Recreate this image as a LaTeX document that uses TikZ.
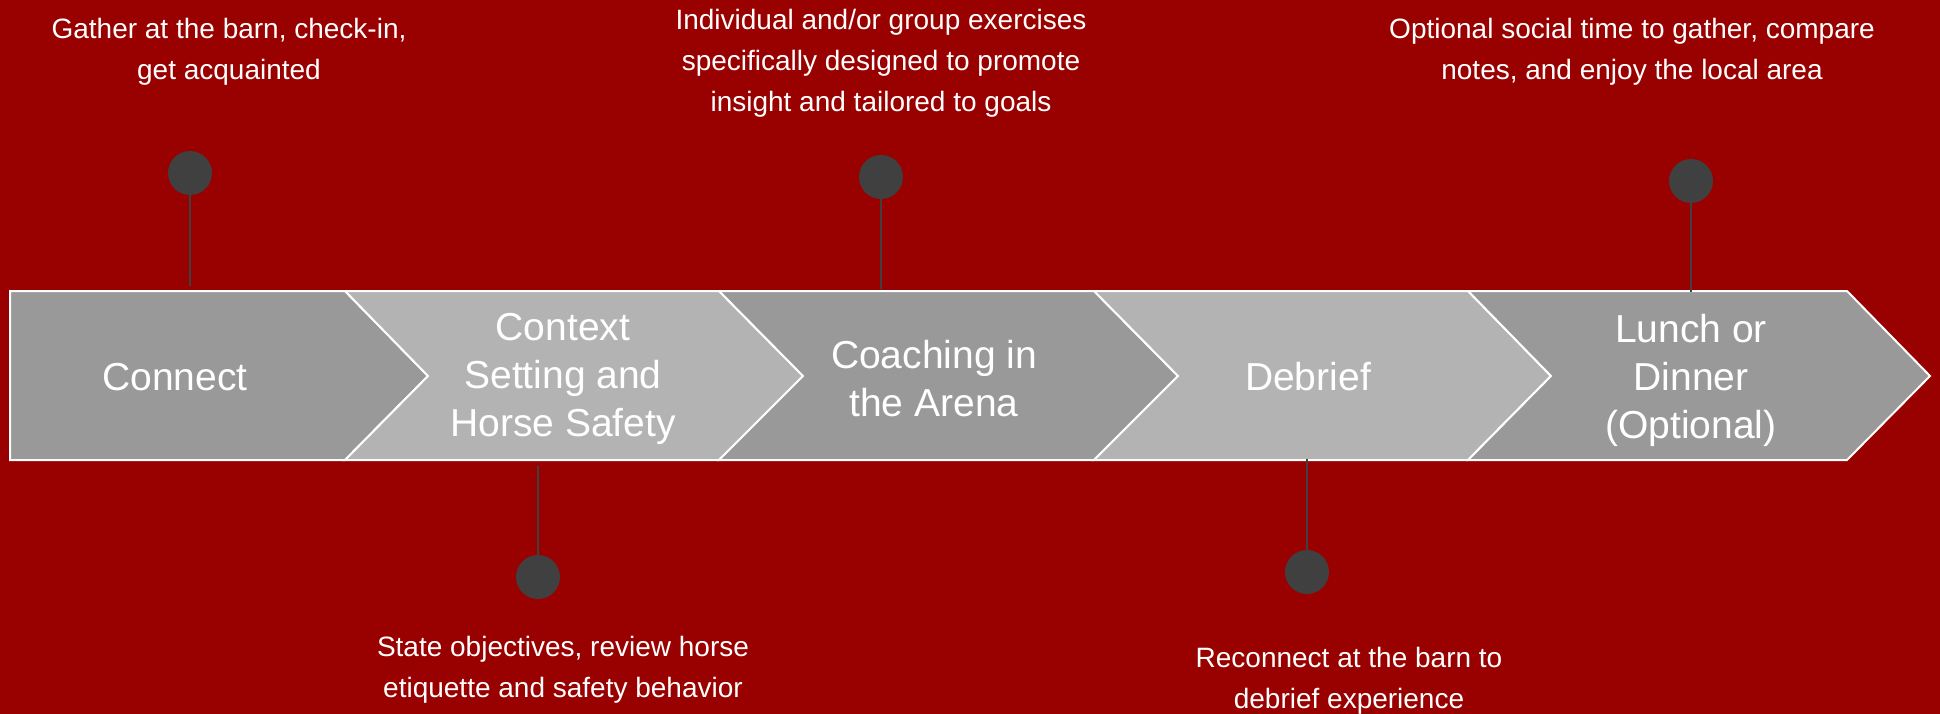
\documentclass[tikz,border=0pt]{standalone}
\usepackage{fontspec}
\setmainfont{Liberation Sans}
\definecolor{bg}{HTML}{990000}
\definecolor{darkchev}{HTML}{999999}
\definecolor{lightchev}{HTML}{B3B3B3}
\definecolor{pincol}{HTML}{404040}
\begin{document}
\begin{tikzpicture}[x=1pt,y=-1pt,
  chev/.style={draw=white, line width=2pt, line join=miter},
  lbl/.style={text=white, align=center, font=\fontsize{39}{48}\selectfont, inner sep=0pt},
  desc/.style={text=white, align=center, font=\fontsize{28}{41}\selectfont, inner sep=0pt},
  pinhead/.style={circle, fill=pincol, minimum size=44pt, inner sep=0pt},
  pinline/.style={draw=pincol, line width=2.2pt}]
\fill[bg] (0,0) rectangle (1940,714);
\useasboundingbox (0,0) rectangle (1940,714);

% chevrons
\path[chev, fill=darkchev] (10,291) -- (345,291) -- (428,376) -- (345,460) -- (10,460) -- cycle;
\path[chev, fill=lightchev] (345,291) -- (719,291) -- (803,376) -- (719,460) -- (345,460) -- (428,376) -- cycle;
\path[chev, fill=darkchev] (719,291) -- (1094,291) -- (1178,376) -- (1094,460) -- (719,460) -- (803,376) -- cycle;
\path[chev, fill=lightchev] (1094,291) -- (1468,291) -- (1551,376) -- (1468,460) -- (1094,460) -- (1178,376) -- cycle;
\path[chev, fill=darkchev] (1468,291) -- (1847,291) -- (1930,376) -- (1847,460) -- (1468,460) -- (1551,376) -- cycle;

% labels
\node[lbl] (l1) at (175,377) {Connect};
\node[lbl] (l2) at (563,379) {Context\\Setting and\\Horse Safety};
\node[lbl] (l3) at (934,379) {Coaching in\\the Arena};
\node[lbl] (l4) at (1308,377) {Debrief};
\node[lbl] (l5) at (1691,380) {Lunch or\\Dinner\\(Optional)};

% pins
\node[pinhead] (p1) at (190,173) {};
\node[pinhead] (p2) at (538,577) {};
\node[pinhead] (p3) at (881,177) {};
\node[pinhead] (p4) at (1307,572) {};
\node[pinhead] (p5) at (1691,181) {};
\coordinate (c1) at (190,286);
\coordinate (c2) at (538,466);
\coordinate (c3) at (881,289);
\coordinate (c4) at (1307,459);
\coordinate (c5) at (1691,292);
\draw[pinline] (p1) -- (c1);
\draw[pinline] (p2) -- (c2);
\draw[pinline] (p3) -- (c3);
\draw[pinline] (p4) -- (c4);
\draw[pinline] (p5) -- (c5);

% descriptions
\node[desc] (d1) at (229,52) {Gather at the barn, check-in,\\get acquainted};
\node[desc] (d2) at (563,670) {State objectives, review horse\\etiquette and safety behavior};
\node[desc] (d3) at (881,63) {Individual and/or group exercises\\specifically designed to promote\\insight and tailored to goals};
\node[desc] (d4) at (1349,681) {Reconnect at the barn to\\debrief experience};
\node[desc] (d5) at (1632,52) {Optional social time to gather, compare\\notes, and enjoy the local area};
\end{tikzpicture}
\end{document}
